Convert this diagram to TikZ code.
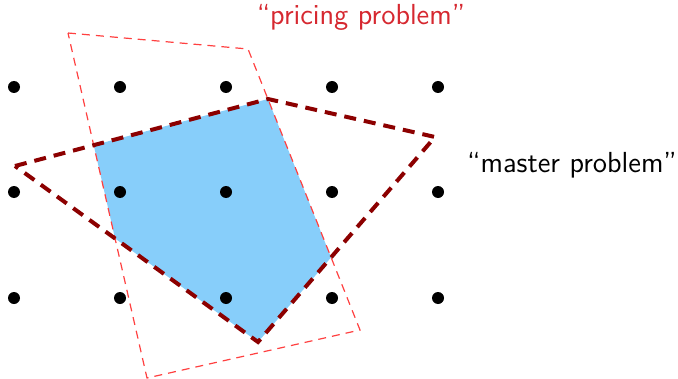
\documentclass[tikz,border=0pt]{standalone}
\begin{document}
\begin{tikzpicture}[x=0.5pt,y=-0.5pt,
  dot/.style={circle,fill=black,inner sep=0pt,minimum size=6pt},
  pricing/.style={draw=red!75!white,line width=0.6pt,dash pattern=on 4pt off 3pt},
  master/.style={draw=black!45!red,line width=2pt,dash pattern=on 6pt off 4pt,line join=miter},
  lbl/.style={font=\sffamily\fontsize{14.5}{17}\selectfont,inner sep=0pt}]
\useasboundingbox (0,0) rectangle (678,379);
\definecolor{fillblue}{RGB}{135,206,250}
\definecolor{lblred}{RGB}{214,40,48}
% corners
\coordinate (p1) at (68,33);
\coordinate (p2) at (248,49);
\coordinate (p3) at (360,330);
\coordinate (p4) at (147,378);
\coordinate (m1) at (15,166);
\coordinate (m2) at (268,99);
\coordinate (m3) at (435,137);
\coordinate (m4) at (258,342);
\begin{scope}
  \clip (p1) -- (p2) -- (p3) -- (p4) -- cycle;
  \fill[fillblue] (m1) -- (m2) -- (m3) -- (m4) -- cycle;
\end{scope}
\foreach \i/\x in {1/14,2/120,3/226,4/332,5/438}
  \foreach \j/\y in {1/87,2/192,3/298}
    \node[dot] (d\i\j) at (\x,\y) {};
\draw[pricing] (p1) -- (p2) -- (p3) -- (p4) -- cycle;
\draw[master] (m1) -- (m2) -- (m3) -- (m4) -- cycle;
\node[lbl,text=lblred] (pl) at (361,17) {``pricing problem''};
\node[lbl] (ml) at (572,165) {``master problem''};
\end{tikzpicture}
\end{document}
